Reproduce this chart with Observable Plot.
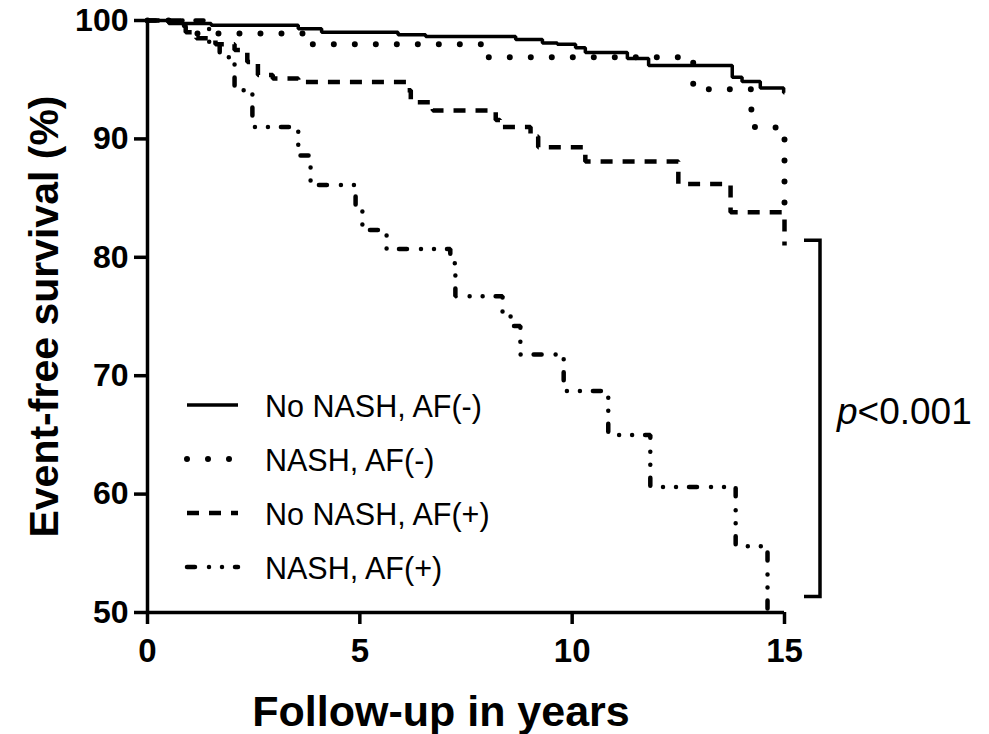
<!DOCTYPE html>
<html><head><meta charset="utf-8">
<script src="https://cdn.jsdelivr.net/npm/d3@7"></script>
<script src="https://cdn.jsdelivr.net/npm/@observablehq/plot@0.6"></script>
<style>
body{margin:0;background:#fff;}
#chart{width:989px;height:734px;}
</style></head><body><div id="chart"></div>
<script>
// ---- data ----
const seriesNames = ["No NASH, AF(-)", "NASH, AF(-)", "No NASH, AF(+)", "NASH, AF(+)"];

const noNashAfNegTime = [0, 0.5, 1.5, 3.55, 4.1, 5.9, 6.55, 8.67, 9.3, 9.65, 10.08, 10.31, 11.3, 11.8, 13.77, 14.0, 14.43, 14.98, 15];
const noNashAfNegSurv = [100, 99.75, 99.6, 99.3, 99.0, 98.8, 98.65, 98.4, 98.1, 98.0, 97.7, 97.3, 96.8, 96.2, 95.2, 94.85, 94.3, 93.9, 93.9];

const nashAfNegTime = [0, 0.6, 1.0, 3.75, 8.0, 12.85, 14.22, 14.79, 15];
const nashAfNegSurv = [100, 99.6, 98.9, 98.0, 96.9, 94.2, 91.0, 90.6, 84.0];

const noNashAfPosTime = [0, 0.9, 1.15, 1.6, 2.05, 2.35, 2.6, 2.95, 3.55, 6.1, 6.2, 6.72, 8.2, 8.3, 9.02, 9.2, 10.31, 12.5, 13.73, 15];
const noNashAfPosSurv = [100, 99.0, 98.5, 98.0, 97.5, 96.5, 95.4, 95.1, 94.8, 94.1, 93.1, 92.4, 91.6, 91.0, 90.2, 89.3, 88.1, 86.2, 83.8, 81.0];

const nashAfPosTime = [0, 1.45, 1.7, 2.05, 2.47, 3.55, 3.84, 4.9, 5.06, 5.63, 7.13, 7.25, 8.36, 8.55, 8.78, 9.8, 10.85, 11.84, 13.85, 14.6];
const nashAfPosSurv = [100, 98.2, 96.9, 94.1, 91.0, 88.6, 86.1, 84.0, 82.3, 80.7, 79.5, 76.7, 75.3, 74.2, 71.8, 68.7, 65.0, 60.6, 55.6, 50];

const xTicks = [0, 5, 10, 15];
const yTicks = [50, 60, 70, 80, 90, 100];
const xTitle = "Follow-up in years";
const yTitle = "Event-free survival (%)";
const pLabel = "p";
const pRest = "<0.001";
const bracketRange = [81.4, 51.3];

// ---- styles ----
const styles = [
  {strokeWidth: 3.5, strokeDasharray: null, strokeLinecap: "butt"},
  {strokeWidth: 6, strokeDasharray: "0 21", strokeLinecap: "round"},
  {strokeWidth: 4.5, strokeDasharray: "12 10", strokeLinecap: "butt"},
  {strokeWidth: 4.5, strokeDasharray: "8 14 0 13 0 13", strokeLinecap: "round"}
];

const times = [noNashAfNegTime, nashAfNegTime, noNashAfPosTime, nashAfPosTime];
const survs = [noNashAfNegSurv, nashAfNegSurv, noNashAfPosSurv, nashAfPosSurv];
const series = seriesNames.map((name, i) => times[i].map((t, j) => ({series: name, t, s: survs[i][j]})));

const font = "Liberation Sans, Arial, Helvetica, sans-serif";

const lineMarks = series.map((rows, i) => {
  const st = styles[i];
  const o = {x: "t", y: "s", curve: "step-after", stroke: "black", strokeWidth: st.strokeWidth, strokeLinecap: st.strokeLinecap, strokeLinejoin: "miter"};
  if (st.strokeDasharray) o.strokeDasharray = st.strokeDasharray;
  return Plot.line(rows, o);
});

const plot = Plot.plot({
  width: 989, height: 734,
  marginLeft: 147, marginRight: 205, marginTop: 20, marginBottom: 122,
  x: {domain: [0, 15]},
  y: {domain: [50, 100]},
  style: {fontFamily: font, background: "white", color: "black", overflow: "visible"},
  marks: [
    ...lineMarks,
    Plot.axisX({ticks: xTicks, tickSize: 12, tickPadding: 14, fontSize: 33, fontWeight: "bold", strokeWidth: 3.5, label: null}),
    Plot.axisY({ticks: yTicks, tickSize: 13, tickPadding: 6, fontSize: 32, fontWeight: "bold", strokeWidth: 3.5, label: null}),
    Plot.ruleY([50], {strokeWidth: 3.5}),
    Plot.ruleX([0], {strokeWidth: 3.5}),
    Plot.text([xTitle], {text: d => d, frameAnchor: "bottom", textAnchor: "middle", lineAnchor: "middle", dx: -25, dy: 100, fontSize: 43, fontWeight: "bold"}),
    Plot.text([yTitle], {text: d => d, frameAnchor: "left", textAnchor: "middle", lineAnchor: "middle", dx: -103, rotate: -90, fontSize: 41, fontWeight: "bold"})
  ]
});

// ---- legend + bracket annotation ----
const svg = d3.select(plot);
const yS = plot.scale("y");
const xS = plot.scale("x");
const leg = svg.append("g").attr("font-family", font).attr("text-anchor", "start");
const legY0 = 405, legStep = 54;
seriesNames.forEach((name, i) => {
  const y = legY0 + i * legStep;
  const st = styles[i];
  const ln = leg.append("line").attr("x1", 187).attr("x2", 238).attr("y1", y).attr("y2", y)
    .attr("stroke", "black").attr("stroke-width", st.strokeWidth).attr("stroke-linecap", st.strokeLinecap);
  if (st.strokeDasharray) ln.attr("stroke-dasharray", st.strokeDasharray);
  leg.append("text").attr("x", 265).attr("y", y + 1).attr("dy", "0.36em")
    .attr("font-size", 30.5).attr("fill", "black").text(name);
});

const bx = xS.apply(15) + 36;
const by1 = yS.apply(bracketRange[0]), by2 = yS.apply(bracketRange[1]);
svg.append("path")
  .attr("d", `M${bx - 16},${by1}H${bx}V${by2}H${bx - 16}`)
  .attr("fill", "none").attr("stroke", "black").attr("stroke-width", 3.5);
const pt = svg.append("text").attr("x", bx + 17).attr("y", (by1 + by2) / 2 - 8).attr("dy", "0.36em")
  .attr("text-anchor", "start")
  .attr("font-family", font).attr("font-size", 37).attr("fill", "black");
pt.append("tspan").attr("font-style", "italic").text(pLabel);
pt.append("tspan").text(pRest);

document.getElementById("chart").appendChild(plot);
</script>
</body></html>
